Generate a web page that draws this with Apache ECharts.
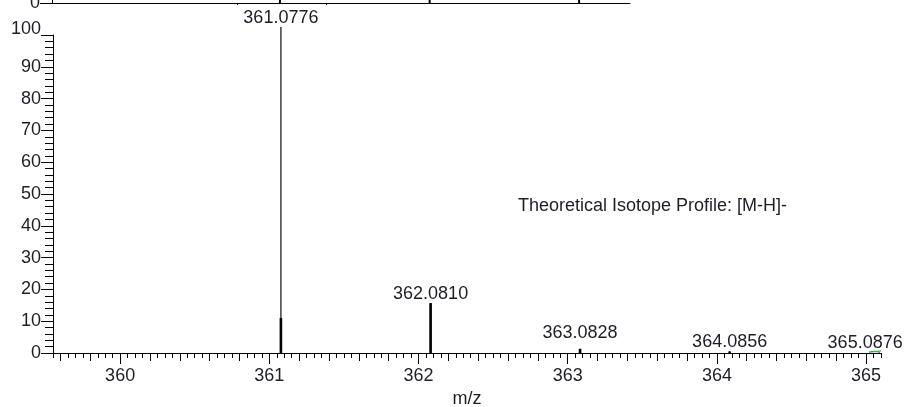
<!DOCTYPE html>
<html>
<head>
<meta charset="utf-8">
<script src="https://cdn.jsdelivr.net/npm/echarts@6/dist/echarts.min.js"></script>
<style>html,body{margin:0;padding:0;background:#fff;}#c{width:905px;height:407px;}</style>
</head>
<body>
<div id="c"></div>
<script>
// ---- data ----
const peakMz = [361.0776, 362.0810, 363.0828, 364.0856, 365.0876];
const peakLabels = ['361.0776', '362.0810', '363.0828', '364.0856', '365.0876'];
const profileIntensity = [102.5, 15.7, 1.3, 0.5, 0.2];
const stubIntensity = [11, 15.7, 1.3, 0.5, 0];
const greenMz = [365.02, 365.05, 365.08, 365.10];
const greenIntensity = [0.25, 0.45, 0.5, 0.75];
const upperMz = [361.0776, 362.0810, 363.0828];
const upperIntensity = [100, 40, 8];
const xMajorTicks = [360, 361, 362, 363, 364, 365];
const yTicks = [0, 10, 20, 30, 40, 50, 60, 70, 80, 90, 100];
const upperMinorTicks = [360.79, 361.39];
const annotation = 'Theoretical Isotope Profile: [M-H]-';
const xName = 'm/z';

const XMIN = 359.55, XMAX = 365.10;
function steps(from, to, step) {
  const out = [];
  const n = Math.round((to - from) / step);
  for (let i = 0; i <= n; i++) out.push(Math.round((from + i * step) * 1000) / 1000);
  return out;
}
const xMediumTicks = steps(359.6, 365.0, 0.2);
const xMinorTicks = steps(359.55, 365.10, 0.05);

const FONT = "'Liberation Sans', Arial, sans-serif";
const TXT = '#1e1e28';
const AX = {lineStyle: {color: '#000', width: 1}};

// per-label nudges (styling)
const labelNudge = {2: [0, -7], 4: [-14, 0]};

function baseX(idx, ticks, len, extra) {
  return Object.assign({
    type: 'value', gridIndex: 0, position: 'bottom', min: XMIN, max: XMAX,
    axisLine: {show: idx === 0, lineStyle: {color: '#000', width: 1}},
    axisTick: {show: true, length: len, lineStyle: {color: '#000', width: 1}, customValues: ticks},
    axisLabel: {show: false},
    splitLine: {show: false}
  }, extra || {});
}

const option = {
  animation: false,
  textStyle: {fontFamily: FONT},
  title: {
    text: annotation, left: 518, top: 197, padding: 0,
    textStyle: {fontSize: 18, fontWeight: 'normal', color: TXT, fontFamily: FONT}
  },
  grid: [
    {left: 53, right: 24, top: 35, bottom: 54, outerBoundsMode: 'none', containLabel: false},
    {left: 52, width: 578, top: -97, height: 100, outerBoundsMode: 'none', containLabel: false}
  ],
  xAxis: [
    baseX(0, xMajorTicks, 11, {
      name: xName, nameLocation: 'middle', nameGap: 36,
      nameTextStyle: {fontSize: 18, color: TXT, fontFamily: FONT},
      axisLabel: {show: true, customValues: xMajorTicks, fontSize: 18, color: TXT, margin: 14, fontFamily: FONT}
    }),
    baseX(1, xMediumTicks, 8),
    baseX(2, xMinorTicks, 5),
    {
      type: 'value', gridIndex: 1, position: 'bottom', min: XMIN, max: XMIN + 578 / 149.2,
      axisLine: AX,
      axisTick: {show: true, length: 2, lineStyle: {color: '#000'}, customValues: upperMinorTicks},
      axisLabel: {show: false}, splitLine: {show: false}
    }
  ],
  yAxis: [
    {
      type: 'value', gridIndex: 0, min: 0, max: 100, interval: 10,
      axisLine: {show: true, lineStyle: {color: '#000', width: 1}},
      axisTick: {show: true, length: 12, lineStyle: {color: '#000'}},
      minorTick: {show: true, splitNumber: 5, length: 8, lineStyle: {color: '#000'}},
      axisLabel: {fontSize: 18, lineHeight: 12, color: TXT, margin: 12, fontFamily: FONT, customValues: yTicks,
        verticalAlignMaxLabel: 'bottom'},
      splitLine: {show: false}
    },
    {
      type: 'value', gridIndex: 1, min: 0, max: 100, interval: 100,
      axisLine: {show: true, lineStyle: {color: '#000', width: 1}},
      axisTick: {show: true, length: 12, lineStyle: {color: '#000'}},
      axisLabel: {fontSize: 18, color: TXT, margin: 12, fontFamily: FONT, showMaxLabel: false},
      splitLine: {show: false}
    }
  ],
  series: [
    {
      name: 'profile', type: 'bar', xAxisIndex: 0, yAxisIndex: 0, barWidth: 1.2, clip: false,
      itemStyle: {color: '#111'},
      data: peakMz.map((m, i) => {
        const item = {value: [m, profileIntensity[i]]};
        item.label = {show: true, position: 'top', distance: 0, formatter: peakLabels[i],
          fontSize: 18, color: TXT, fontFamily: FONT};
        if (labelNudge[i]) item.label.offset = labelNudge[i];
        return item;
      })
    },
    {
      name: 'stub', type: 'bar', xAxisIndex: 1, yAxisIndex: 0, barWidth: 2.6,
      itemStyle: {color: '#000'},
      data: peakMz.map((m, i) => [m, stubIntensity[i]])
    },
    {
      name: 'green', type: 'line', xAxisIndex: 0, yAxisIndex: 0, smooth: true, showSymbol: false,
      lineStyle: {color: '#3fae4a', width: 1.5}, clip: false, z: 5,
      data: greenMz.map((m, i) => [m, greenIntensity[i]])
    },
    {
      name: 'upper', type: 'bar', xAxisIndex: 3, yAxisIndex: 1, barWidth: 2,
      itemStyle: {color: '#000'},
      data: upperMz.map((m, i) => [m, upperIntensity[i]])
    }
  ]
};
const chart = echarts.init(document.getElementById('c'), null, {renderer: 'canvas'});
chart.setOption(option);
</script>
</body>
</html>
